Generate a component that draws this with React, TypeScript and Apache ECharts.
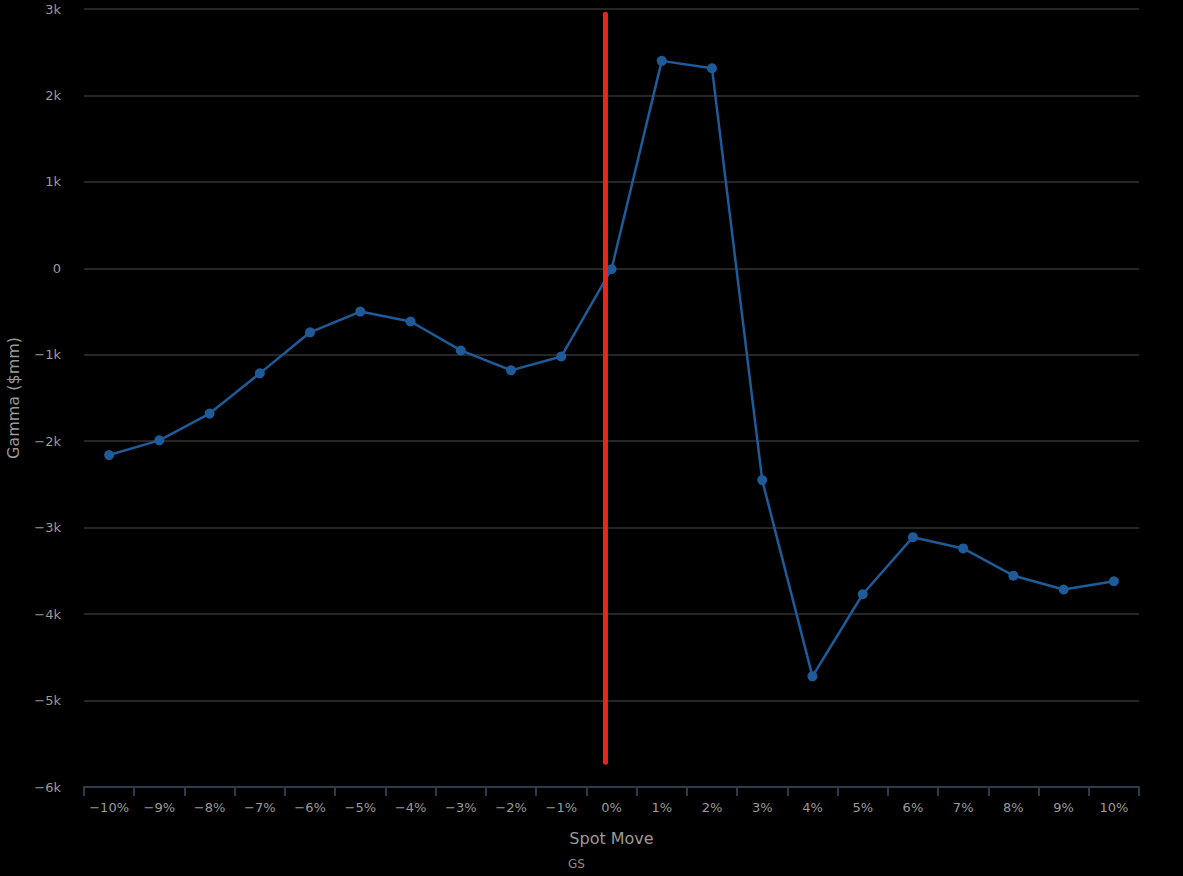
import React, { useEffect, useRef } from "react";
import * as echarts from "echarts";

const categories = ["−10%", "−9%", "−8%", "−7%", "−6%", "−5%", "−4%", "−3%", "−2%", "−1%", "0%", "1%", "2%", "3%", "4%", "5%", "6%", "7%", "8%", "9%", "10%"];
const gammaValues = [-2160, -1990, -1680, -1215, -740, -500, -615, -950, -1180, -1020, -10, 2400, 2315, -2450, -4720, -3770, -3110, -3240, -3555, -3715, -3620];
const spotMarker = [[-0.12, 2940], [-0.12, -5715]];
const yTicks = { min: -6000, max: 3000, interval: 1000 };

export default function App() {
  const ref = useRef<HTMLDivElement>(null);
  useEffect(() => {
    if (!ref.current) return;
    const chart = echarts.init(ref.current, null, { renderer: "svg" });
    const labelColor = "#9c9a96";
    const font = "DejaVu Sans, Open Sans, sans-serif";
    chart.setOption({
      animation: false,
      backgroundColor: "#000000",
      textStyle: { fontFamily: font },
      grid: { left: 84, right: 44, top: 9, bottom: 89, containLabel: false, outerBoundsMode: "none" },
      xAxis: [
        {
          type: "category",
          data: categories,
          boundaryGap: true,
          name: "Spot Move",
          nameLocation: "middle",
          nameGap: 43,
          nameTextStyle: { color: labelColor, fontSize: 16, fontFamily: font },
          axisLine: { show: true, onZero: false, lineStyle: { color: "#2c3a4a", width: 2 } },
          axisTick: { show: true, interval: 0, alignWithLabel: false, length: 9, lineStyle: { color: "#2c3a4a", width: 2 } },
          axisLabel: { color: labelColor, fontSize: 13, margin: 14, interval: 0, hideOverlap: false, fontFamily: font },
          splitLine: { show: false },
        },
        {
          type: "value",
          min: -10.5,
          max: 10.5,
          show: false,
        },
      ],
      yAxis: {
        type: "value",
        min: yTicks.min,
        max: yTicks.max,
        interval: yTicks.interval,
        name: "Gamma ($mm)",
        nameLocation: "middle",
        nameGap: 63,
        nameRotate: 90,
        nameTextStyle: { color: labelColor, fontSize: 16, fontFamily: font },
        axisLine: { show: false },
        axisTick: { show: false },
        axisLabel: {
          color: labelColor,
          fontSize: 13,
          margin: 23,
          fontFamily: font,
          formatter: (v: number) => (v === 0 ? "0" : (v < 0 ? "−" : "") + Math.abs(v / 1000) + "k"),
        },
        splitLine: { show: true, lineStyle: { color: "#262626", width: 2 } },
      },
      series: [
        {
          type: "line",
          xAxisIndex: 0,
          data: gammaValues,
          symbol: "circle",
          symbolSize: 10,
          itemStyle: { color: "#1f5b98" },
          lineStyle: { color: "#1f5b98", width: 2.5 },
          z: 2,
        },
        {
          type: "line",
          xAxisIndex: 1,
          data: spotMarker,
          symbol: "none",
          lineStyle: { color: "#e8261c", width: 5, cap: "round" },
          z: 3,
        },
      ],
      graphic: [
        {
          type: "text",
          left: 568,
          top: 858,
          style: { text: "GS", fill: "#8a8a8a", fontSize: 12, fontFamily: font },
        },
      ],
    });
    return () => chart.dispose();
  }, []);
  return (
    <div
      ref={ref}
      style={{ position: "fixed", left: 0, top: 0, width: 1183, height: 876, background: "#000" }}
    />
  );
}
